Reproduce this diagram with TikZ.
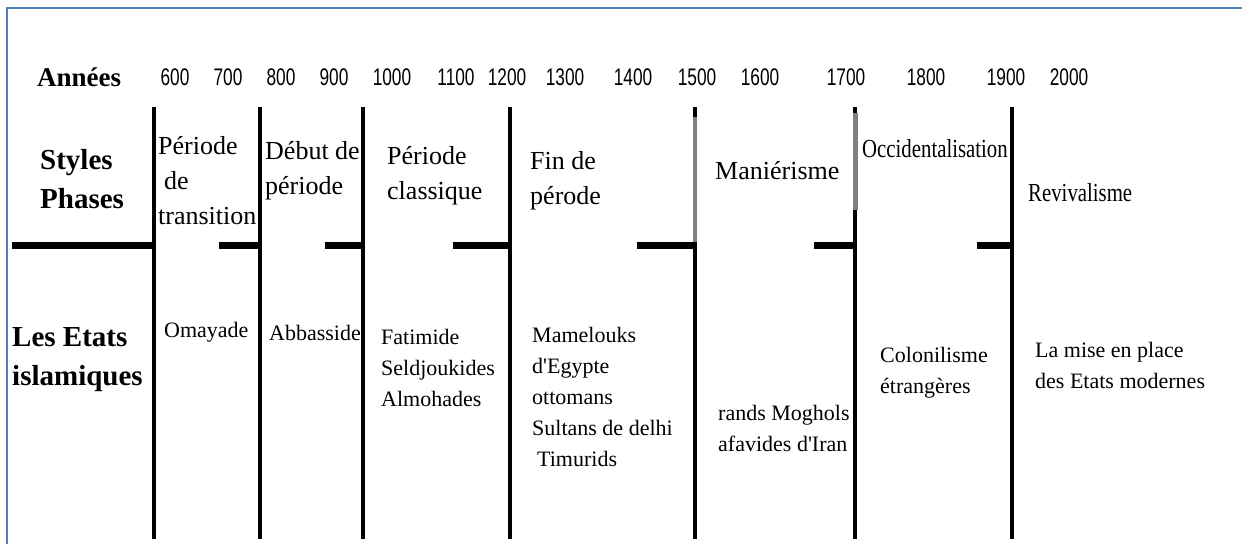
\documentclass[tikz,border=0pt]{standalone}
\usepackage{fontspec}
\setmainfont{Liberation Serif}
\newfontfamily\yearfont[FakeStretch=0.72]{Liberation Sans}
\newfontfamily\narrowfont[FakeStretch=0.8]{Liberation Serif}
\definecolor{frameblue}{HTML}{4F81BD}
\tikzset{
	divider/.style={line width=3.5pt, black},
	tick/.style={line width=7pt, black},
	year/.style={font=\yearfont\fontsize{24}{24}\selectfont, inner sep=0pt},
	rowhead/.style={font=\bfseries\fontsize{29}{39}\selectfont, align=left, anchor=north west, inner sep=0pt},
	phase/.style={font=\fontsize{26}{35}\selectfont, align=left, anchor=north west, inner sep=0pt},
	state/.style={font=\fontsize{22}{31}\selectfont, align=left, anchor=north west, inner sep=0pt}
}
\begin{document}
\begin{tikzpicture}[x=1pt,y=-1pt]
	\useasboundingbox (0,0) rectangle (1242,544);
	%frame
	\draw[frameblue, line width=2pt] (6.5,544) -- (6.5,8) -- (1242,8);
	%years
	\node[font=\bfseries\fontsize{27}{27}\selectfont, anchor=west, inner sep=0pt] (annees) at (37,77) {Années};
	\foreach \yr/\xp in {600/175, 700/228, 800/281, 900/334, 1000/392, 1100/456, 1200/507, 1300/565,
		1400/633, 1500/697, 1600/760, 1700/846, 1800/926, 1900/1006, 2000/1069}
		\node[year] (y\yr) at (\xp,77) {\yr};
	%dividers
	\foreach \xp in {154,260,363,510,695,855,1012}
		\draw[divider] (\xp,107) -- (\xp,539);
		% grey parts
		\draw[divider, gray] (695,117) -- (695,242);
		\draw[line width=5pt, white] (855,113) -- (855,210);
		\draw[line width=5pt, gray] (855,113) -- (855,210);
	%ticks
	\foreach \xa/\xb in {12/154, 219/260, 325/363, 453/510, 637/695, 814/855, 977/1012}
		\draw[tick] (\xa,245) -- (\xb+1.5,245);
	%row heads
	\node[rowhead] (styles) at (40,149.5) {Styles\\Phases};
	\node[rowhead] (etats) at (12,327.5) {Les Etats\\islamiques};
	%phases
		\node[phase] (transition) at (158,136) {Période\\\hspace{6pt}de\\transition};
		\node[phase] (debut) at (265,141) {Début de\\période};
		\node[phase] (classique) at (387,146) {Période\\classique};
		\node[phase] (fin) at (530,151) {Fin de\\pérode};
		\node[phase] (manierisme) at (715,161) {Maniérisme};
		\node[phase, font=\narrowfont\fontsize{26}{35}\selectfont] (occident) at (862,139) {Occidentalisation};
		\node[phase, font=\narrowfont\fontsize{26}{35}\selectfont] (revival) at (1028,183) {Revivalisme};
	%states
		\node[state] (omayade) at (164,322) {Omayade};
		\node[state] (abbasside) at (269,325) {Abbasside};
		\node[state] (fatimide) at (381,329) {Fatimide\\Seldjoukides\\Almohades};
		\node[state] (mamelouks) at (532,327) {Mamelouks\\d\textquotesingle Egypte\\ottomans\\Sultans de delhi\\\hspace{5pt}Timurids};
		\node[state] (moghols) at (718,405) {rands Moghols\\afavides d\textquotesingle Iran};
		\node[state] (colon) at (880,347) {Colonilisme\\étrangères};
		\node[state] (modernes) at (1035,342) {La mise en place\\des Etats modernes};
\end{tikzpicture}
\end{document}
